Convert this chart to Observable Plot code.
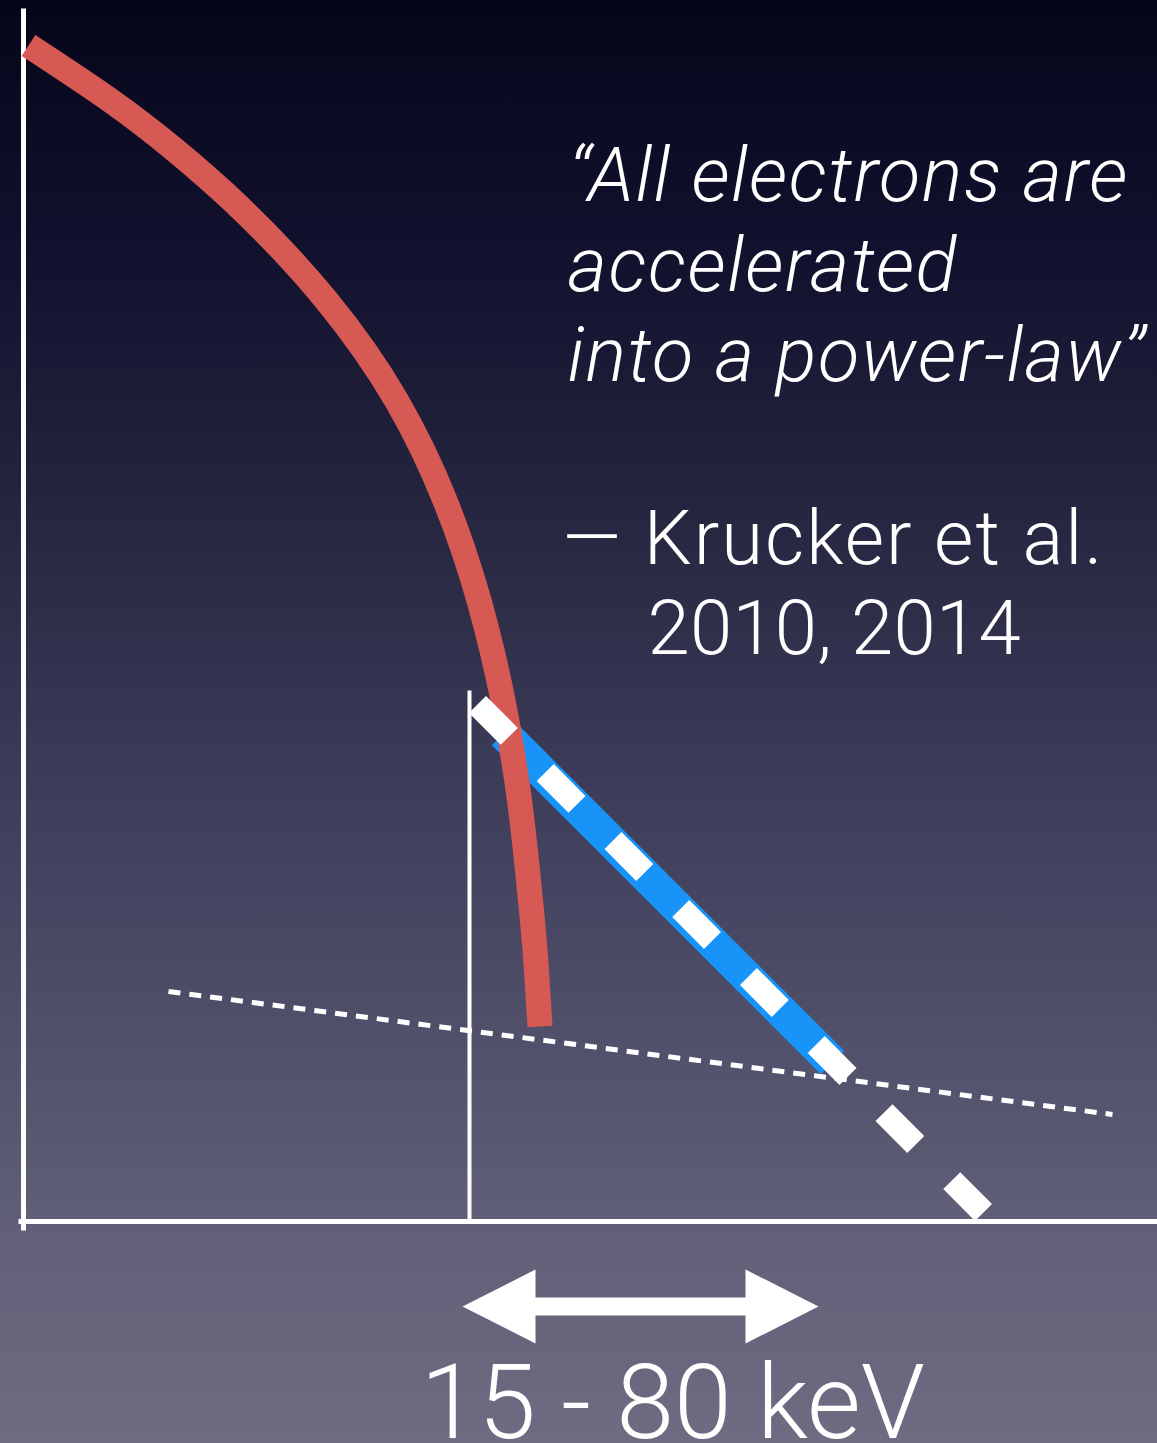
<!DOCTYPE html>
<html>
<head>
<meta charset="utf-8">
<script src="https://cdn.jsdelivr.net/npm/d3@7"></script>
<script src="https://cdn.jsdelivr.net/npm/@observablehq/plot@0.6"></script>
<style>
  html, body { margin: 0; padding: 0; background: #0a0a20; overflow: hidden; }
  #chart svg { display: block; }
</style>
</head>
<body>
<div id="chart"></div>
<script>
// Schematic coordinates (energy to the right, flux downward on the slide)
const axisX = [23, 23];            // vertical axis
const axisY = [8, 1230];
const baseX = [18, 1157];          // horizontal axis
const baseY = [1221, 1221];
const cutX = [469, 469];           // 15 keV marker
const cutY = [690, 1221];

// Thermal (red) spectrum
const thermalX = [28, 110, 175, 232, 282, 326, 364, 396, 422.5, 444.5, 463, 478.5, 491.5, 502.5, 511.5, 519, 526, 532, 536, 539.5];
const thermalY = [45, 100, 150, 200, 250, 300, 350, 400, 450, 500, 550, 600, 650, 700, 750, 800, 860, 920, 970, 1026];

// Observed non-thermal (blue) power-law segment
const obsX = [503, 832];
const obsY = [733, 1062];

// Extrapolated power-law (white dashed)
const plX = [477, 983];
const plY = [704, 1212];

// Background level (white dotted)
const bgX = [168, 1112];
const bgY = [991, 1114];

// Double arrow (15 - 80 keV range)
const arrowX = [462, 535, 535, 745, 745, 818, 745, 745, 535, 535, 462];
const arrowY = [1306, 1269, 1297, 1297, 1269, 1306, 1343, 1315, 1315, 1343, 1306];

// Texts
const quoteLines = ["\u201CAll electrons are", "accelerated", "into a power-law\u201D"];
const quoteX = [568, 567, 567];
const quoteY = [200, 290, 380];
const citeLines = ["\u2014 Krucker et al.", "2010, 2014"];
const citeX = [562, 647];
const citeY = [563, 653];
const rangeLabel = ["15 - 80 keV"];
const rangeX = [420];
const rangeY = [1437];

const seg = (xs, ys) => xs.map((x, i) => ({x, y: ys[i]}));
const textRows = (labels, xs, ys) => labels.map((t, i) => ({t, x: xs[i], y: ys[i]}));

const font = "'Helvetica Neue', Roboto, 'Liberation Sans', sans-serif";

const chart = Plot.plot({
  width: 1157,
  height: 1443,
  margin: 0,
  x: {domain: [0, 1157], range: [0, 1157], axis: null},
  y: {domain: [0, 1443], range: [0, 1443], axis: null},
  style: {
    background: "linear-gradient(to bottom, #05051a 0%, #12122f 18%, #25253f 35%, #3a3a57 52%, #4f4e69 70%, #605f77 85%, #6d6c82 100%)",
    color: "white",
    overflow: "visible"
  },
  marks: [
    Plot.line(seg(axisX, axisY), {x: "x", y: "y", stroke: "white", strokeWidth: 5, strokeLinecap: "butt"}),
    Plot.line(seg(baseX, baseY), {x: "x", y: "y", stroke: "white", strokeWidth: 5, strokeLinecap: "butt"}),
    Plot.line(seg(cutX, cutY), {x: "x", y: "y", stroke: "white", strokeWidth: 4, strokeLinecap: "butt"}),
    Plot.line(seg(bgX, bgY), {x: "x", y: "y", stroke: "white", strokeWidth: 5, strokeDasharray: "12,9", strokeLinecap: "butt"}),
    Plot.line(seg(obsX, obsY), {x: "x", y: "y", stroke: "#1894f8", strokeWidth: 33, strokeLinecap: "butt"}),
    Plot.line(seg(thermalX, thermalY), {x: "x", y: "y", stroke: "#d65a53", strokeWidth: 25, strokeLinecap: "butt", curve: "natural"}),
    Plot.line(seg(plX, plY), {x: "x", y: "y", stroke: "white", strokeWidth: 24, strokeDasharray: "45,51", strokeLinecap: "butt"}),
    Plot.line(seg(arrowX, arrowY), {x: "x", y: "y", fill: "white", stroke: "none"}),
    Plot.text(textRows(quoteLines, quoteX, quoteY), {x: "x", y: "y", text: "t", fill: "white", fontSize: 76, fontStyle: "italic", fontWeight: 300, fontFamily: font, textAnchor: "start", lineAnchor: "bottom", className: "quote"}),
    Plot.text(textRows(citeLines, citeX, citeY), {x: "x", y: "y", text: "t", fill: "white", fontSize: 76, fontWeight: 300, fontFamily: font, textAnchor: "start", lineAnchor: "bottom", className: "cite"}),
    Plot.text(textRows(rangeLabel, rangeX, rangeY), {x: "x", y: "y", text: "t", fill: "white", fontSize: 104, fontWeight: 300, fontFamily: font, textAnchor: "start", lineAnchor: "bottom"})
  ]
});
d3.select(chart).selectAll("g.quote text").attr("letter-spacing", "1.5px");
d3.select(chart).selectAll("g.cite text").attr("letter-spacing", (d, i) => i === 0 ? "2px" : "0.3px");
document.getElementById("chart").appendChild(chart);
</script>
</body>
</html>
